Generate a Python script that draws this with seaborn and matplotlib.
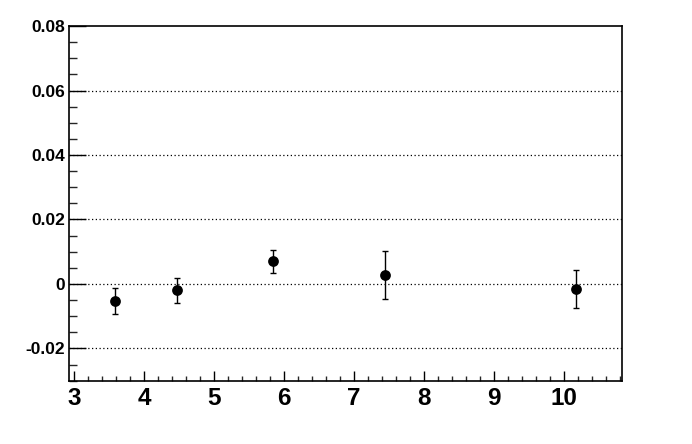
import numpy as np
import pandas as pd
import seaborn as sns
import matplotlib.pyplot as plt
from matplotlib.ticker import MultipleLocator

sns.set_style("white")
plt.rcParams['font.family'] = ['Liberation Sans', 'DejaVu Sans']

# Data
x_vals = [3.59, 4.48, 5.85, 7.45, 10.18]
y_vals = [-0.0054, -0.0020, 0.0070, 0.0027, -0.0016]
y_errs = [0.0040, 0.0038, 0.0036, 0.0074, 0.0059]
y_ticks = [-0.02, 0, 0.02, 0.04, 0.06, 0.08]
y_ticklabels = ['-0.02', '0', '0.02', '0.04', '0.06', '0.08']
x_ticks = [3, 4, 5, 6, 7, 8, 9, 10]

df = pd.DataFrame({'x': x_vals, 'y': y_vals, 'err': y_errs})

fig = plt.figure(figsize=(6.92, 4.44), dpi=100)
ax = fig.add_axes([0.0997, 0.1419, 0.7991, 0.7995])

# Error bars then markers
ax.errorbar(df['x'], df['y'], yerr=df['err'], fmt='none', ecolor='black',
            elinewidth=1.0, capsize=2.2, capthick=1.0, zorder=3)
sns.scatterplot(data=df, x='x', y='y', ax=ax, color='black', s=60,
                edgecolor='black', linewidth=0, zorder=4, legend=False)

ax.set_xlim(2.93, 10.83)
ax.set_ylim(-0.0301, 0.08)

# Ticks
ax.xaxis.set_minor_locator(MultipleLocator(0.2))
ax.set_xticks(x_ticks)
ax.set_xticklabels([str(t) for t in x_ticks], fontsize=17.5, fontweight='bold')
ax.set_yticks(y_ticks)
ax.set_yticklabels(y_ticklabels, fontsize=12.5, fontweight='bold')
ax.yaxis.set_minor_locator(MultipleLocator(0.005))

ax.tick_params(axis='x', which='major', direction='in', length=7.5, width=1,
               bottom=True, top=False, pad=4, colors='black')
ax.tick_params(axis='x', which='minor', direction='in', length=3.8, width=1,
               bottom=True, top=False)
ax.tick_params(axis='y', which='major', direction='in', length=12, width=1,
               left=True, right=False, pad=3, colors='black')
ax.tick_params(axis='y', which='minor', direction='in', length=6, width=1,
               left=True, right=False)

# Dotted horizontal grid lines at major y ticks
for yv in y_ticks[:-1]:
    ax.axhline(yv, color='black', linestyle=(0, (1, 2)), lw=0.9, zorder=1)

for spine in ax.spines.values():
    spine.set_visible(True)
    spine.set_color('black')
    spine.set_linewidth(1.2)

ax.set_xlabel('')
ax.set_ylabel('')

fig.savefig('out.png', dpi=100)
